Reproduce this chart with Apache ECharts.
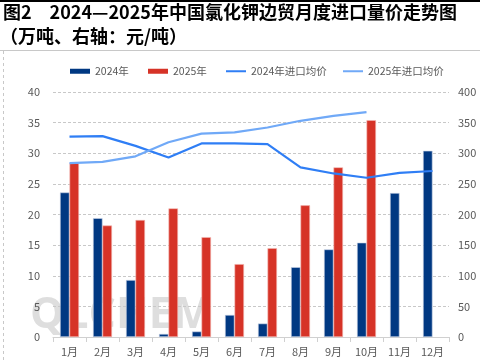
<!DOCTYPE html>
<html><head><meta charset="utf-8">
<script src="https://cdn.jsdelivr.net/npm/echarts@6/dist/echarts.min.js"></script>
<style>html,body{margin:0;padding:0;background:#fff}#c{width:480px;height:362px}</style>
</head><body><div id="c"></div>
<script>
const months = ['1月','2月','3月','4月','5月','6月','7月','8月','9月','10月','11月','12月'];
const vol2024 = [23.6, 19.4, 9.3, 0.5, 0.9, 3.6, 2.2, 11.4, 14.3, 15.4, 23.5, 30.4];
const vol2025 = [28.4, 18.2, 19.1, 21.0, 16.3, 11.9, 14.5, 21.5, 27.7, 35.4];
const price2024 = [327, 328, 312, 293, 316, 316, 315, 277, 267, 260, 268, 271];
const price2025 = [284, 286, 295, 318, 332, 334, 342, 353, 361, 367];
const leftTicks = [0, 40, 5];
const rightTicks = [0, 400, 50];
const seriesNames = ['2024年','2025年','2024年进口均价','2025年进口均价'];

const chart = echarts.init(document.getElementById('c'));
const axisLabel = {color:'#595959', fontSize:11, fontFamily:'"Noto Sans CJK SC", sans-serif'};
const legendBase = {top:61, itemWidth:20, itemHeight:5, textStyle:{color:'#595959', fontSize:10.5}, itemGap:10};
chart.setOption({
  animation:false,
  textStyle:{fontFamily:'"Noto Sans CJK SC", sans-serif'},
  graphic:[
    {type:'rect', shape:{x:0,y:0,width:480,height:2}, style:{fill:'#000'}},
    {type:'line', shape:{x1:0,y1:50.5,x2:480,y2:50.5}, style:{stroke:'#c8c8c8', lineWidth:1}},
    {type:'line', shape:{x1:3.5,y1:51,x2:3.5,y2:362}, style:{stroke:'#c8c8c8', lineWidth:1, lineDash:[3,3]}},
    {type:'text', left:3, top:3, style:{text:'图2　2024—2025年中国氯化钾边贸月度进口量价走势图', fill:'#000', font:'bold 18px "Noto Sans CJK SC"'}},
    {type:'text', left:0, top:27, style:{text:'（万吨、右轴：元/吨）', fill:'#000', font:'bold 18px "Noto Sans CJK SC"'}},
    {type:'text', left:30, top:294, z:-10, style:{text:'QLCHEM', fill:'#dedede', font:'bold 43px "Open Sans"'}}
  ],
  legend:[
    Object.assign({left:65, data:[{name:seriesNames[0], icon:'rect', itemStyle:{borderWidth:0}}]}, legendBase),
    Object.assign({left:143, data:[{name:seriesNames[1], icon:'rect', itemStyle:{borderWidth:0}}]}, legendBase),
    Object.assign({left:220, data:[{name:seriesNames[2], itemStyle:{opacity:0}}]}, legendBase),
    Object.assign({left:337, data:[{name:seriesNames[3], itemStyle:{opacity:0}}]}, legendBase)
  ],
  grid:{left:53, right:31, top:92, bottom:25},
  xAxis:{
    type:'category', data:months,
    axisLine:{lineStyle:{color:'#d0d0d0'}},
    axisTick:{show:true, lineStyle:{color:'#d0d0d0'}},
    axisLabel:Object.assign({margin:9}, axisLabel)
  },
  yAxis:[
    {type:'value', min:leftTicks[0], max:leftTicks[1], interval:leftTicks[2],
     axisLabel:Object.assign({margin:13}, axisLabel),
     splitLine:{lineStyle:{color:'#c8c8c8', type:[3,2]}}},
    {type:'value', min:rightTicks[0], max:rightTicks[1], interval:rightTicks[2],
     axisLabel:Object.assign({margin:9}, axisLabel),
     splitLine:{show:false}}
  ],
  series:[
    {name:seriesNames[0], type:'bar', data:vol2024, barWidth:9.5, barGap:'0%',
     itemStyle:{color:'#003882', borderColor:'#c9d3e6', borderWidth:0.6}},
    {name:seriesNames[1], type:'bar', data:vol2025, barWidth:9.5, barGap:'0%',
     itemStyle:{color:'#d63327', borderColor:'#f2b8b3', borderWidth:0.6}},
    {name:seriesNames[2], type:'line', yAxisIndex:1, data:price2024, symbol:'none',
     lineStyle:{color:'#2f7ef5', width:2.2}, itemStyle:{color:'#2f7ef5'}},
    {name:seriesNames[3], type:'line', yAxisIndex:1, data:price2025, symbol:'none',
     lineStyle:{color:'#70a9f7', width:2.2}, itemStyle:{color:'#70a9f7'}}
  ]
});
</script></body></html>
